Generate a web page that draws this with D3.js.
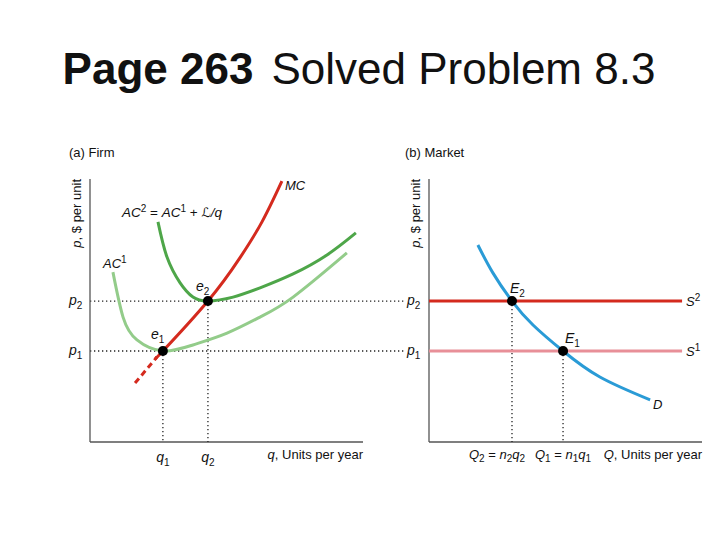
<!DOCTYPE html>
<html>
<head>
<meta charset="utf-8" />
<title>Solved Problem 8.3</title>
<script src="https://cdn.jsdelivr.net/npm/d3@7"></script>
<style>
  html, body { margin: 0; padding: 0; background: #fff; }
  text { font-family: "Liberation Sans", Arial, sans-serif; fill: #111; }
  .it { font-style: italic; }
</style>
</head>
<body>
<script>
// values, both panels use a 0..100 domain on each axis
var q1 = 26.7, q2 = 43.2;          // firm quantities
var p1 = 34.6, p2 = 53.6;          // prices
var Q2 = 30.4, Q1 = 49.1;          // market quantities

var mcDashed = [[16.5, 22.4], [24.5, 32.3]];
var mcPoints = [[24.5, 32.3], [26.7, 34.6], [43.2, 53.6], [54.9, 70.0], [63.0, 83.7], [70.3, 99.2]];
var ac1Points = [[8.4, 64.6], [12.1, 47.5], [17.2, 38.8], [26.7, 34.6], [37.7, 36.9], [50.2, 41.4], [62.3, 47.5], [74.4, 55.1], [94.1, 71.9]];
var ac2Points = [[24.9, 83.7], [28.2, 70.3], [33.0, 60.5], [37.7, 55.1], [43.2, 53.6], [52.4, 55.1], [62.3, 58.6], [74.4, 63.9], [86.8, 71.1], [97.4, 79.5]];
var demandPoints = [[17.9, 74.9], [23.4, 64.3], [30.4, 53.6], [38.1, 44.5], [49.1, 34.6], [62.6, 24.7], [81.0, 16.0]];
var supplyEnd = 92.7;

var svg = d3.select('body').append('svg').attr('width', 720).attr('height', 540);

// title
var title = svg.append('text').attr('x', 359).attr('y', 84).attr('text-anchor', 'middle').style('font-size', '44px');
title.append('tspan').style('font-weight', 'bold').text('Page 263');
title.append('tspan').attr('dx', 18).text('Solved Problem 8.3');

var yScale = d3.scaleLinear().domain([0, 100]).range([442, 179]);
var xa = d3.scaleLinear().domain([0, 100]).range([90, 363]);
var xb = d3.scaleLinear().domain([0, 100]).range([429, 702]);

function lineFor(x) {
  return d3.line().x(function(d){ return x(d[0]); }).y(function(d){ return yScale(d[1]); }).curve(d3.curveNatural);
}

function subLabel(x, y, main, sub, anchor) {
  var t = svg.append('text').attr('x', x).attr('y', y).attr('text-anchor', anchor || 'start').style('font-size', '14px');
  t.append('tspan').attr('class', 'it').text(main);
  t.append('tspan').attr('dy', 4).style('font-size', '10px').text(sub);
  return t;
}

// italic letter with superscript; the next tspan must bring the baseline back with dy 5
function supLabel(t, main, sup, dy0) {
  t.append('tspan').attr('class', 'it').attr('dy', dy0 || 0).text(main);
  t.append('tspan').attr('dy', -5).style('font-size', '10px').text(sup);
}

function axes(x, label) {
  var g = svg.append('g');
  g.append('line').attr('x1', x(0)).attr('x2', x(0)).attr('y1', yScale(100)).attr('y2', yScale(0)).attr('stroke', '#555').attr('stroke-width', 1.3);
  g.append('line').attr('x1', x(0)).attr('x2', x(100)).attr('y1', yScale(0)).attr('y2', yScale(0)).attr('stroke', '#555').attr('stroke-width', 1.3);
  var yl = g.append('text').attr('transform', 'translate(' + (x(0) - 9) + ',' + yScale(100) + ') rotate(-90)')
    .attr('text-anchor', 'end').style('font-size', '13px');
  yl.append('tspan').attr('class', 'it').text('p');
  yl.append('tspan').text(', $ per unit');
  var xl = g.append('text').attr('x', x(100)).attr('y', 459).attr('text-anchor', 'end').style('font-size', '13px');
  xl.append('tspan').attr('class', 'it').text(label);
  xl.append('tspan').text(', Units per year');
  return g;
}

function dotted(x1, x2, y1, y2) {
  svg.append('line').attr('x1', x1).attr('x2', x2).attr('y1', y1).attr('y2', y2)
    .attr('stroke', '#222').attr('stroke-width', 1.3).attr('stroke-dasharray', '1.3,2.7');
}

// dotted price lines across both panels
[p1, p2].forEach(function(p) { dotted(xa(0), 405, yScale(p), yScale(p)); });

// ---- (a) Firm ----
axes(xa, 'q');
svg.append('text').attr('x', 69).attr('y', 157).style('font-size', '13px').text('(a) Firm');

dotted(xa(q1), xa(q1), yScale(p1), yScale(0));
dotted(xa(q2), xa(q2), yScale(p2), yScale(0));

svg.append('path').attr('d', lineFor(xa)(ac1Points)).attr('fill', 'none').attr('stroke', '#93cc8a').attr('stroke-width', 3);
svg.append('path').attr('d', lineFor(xa)(ac2Points)).attr('fill', 'none').attr('stroke', '#4ea649').attr('stroke-width', 3);
svg.append('path').attr('d', lineFor(xa)(mcDashed)).attr('fill', 'none').attr('stroke', '#d42a1e').attr('stroke-width', 3).attr('stroke-dasharray', '6,4');
svg.append('path').attr('d', lineFor(xa)(mcPoints)).attr('fill', 'none').attr('stroke', '#d42a1e').attr('stroke-width', 3);

svg.append('circle').attr('cx', xa(q1)).attr('cy', yScale(p1)).attr('r', 5).attr('fill', '#000');
svg.append('circle').attr('cx', xa(q2)).attr('cy', yScale(p2)).attr('r', 5).attr('fill', '#000');

subLabel(69, yScale(p2) + 4, 'p', '2');
subLabel(69, yScale(p1) + 4, 'p', '1');
subLabel(xa(q1), 462, 'q', '1', 'middle');
subLabel(xa(q2), 462, 'q', '2', 'middle');
subLabel(151, 339, 'e', '1');
subLabel(196, 291, 'e', '2');

svg.append('text').attr('x', 285).attr('y', 190).attr('class', 'it').style('font-size', '13px').text('MC');
supLabel(svg.append('text').attr('x', 103).attr('y', 268).style('font-size', '13px'), 'AC', '1');
var ac2l = svg.append('text').attr('x', 122).attr('y', 217).style('font-size', '13.5px');
supLabel(ac2l, 'AC', '2');
ac2l.append('tspan').attr('dy', 5).text(' = ');
supLabel(ac2l, 'AC', '1');
ac2l.append('tspan').attr('dy', 5).text(' + ');
ac2l.append('tspan').style('font-family', '"DejaVu Sans", sans-serif').style('font-size', '13px').text('\u2112');
ac2l.append('tspan').attr('class', 'it').text('/q');

// ---- (b) Market ----
axes(xb, 'Q');
svg.append('text').attr('x', 405).attr('y', 157).style('font-size', '13px').text('(b) Market');

dotted(xb(Q2), xb(Q2), yScale(p2), yScale(0));
dotted(xb(Q1), xb(Q1), yScale(p1), yScale(0));

svg.append('line').attr('x1', xb(0)).attr('x2', xb(supplyEnd)).attr('y1', yScale(p1)).attr('y2', yScale(p1)).attr('stroke', '#e88f98').attr('stroke-width', 3);
svg.append('line').attr('x1', xb(0)).attr('x2', xb(supplyEnd)).attr('y1', yScale(p2)).attr('y2', yScale(p2)).attr('stroke', '#d42a1e').attr('stroke-width', 3);
svg.append('path').attr('d', lineFor(xb)(demandPoints)).attr('fill', 'none').attr('stroke', '#2a9bd6').attr('stroke-width', 3);

svg.append('circle').attr('cx', xb(Q2)).attr('cy', yScale(p2)).attr('r', 5).attr('fill', '#000');
svg.append('circle').attr('cx', xb(Q1)).attr('cy', yScale(p1)).attr('r', 5).attr('fill', '#000');

subLabel(407, yScale(p2) + 4, 'p', '2');
subLabel(407, yScale(p1) + 4, 'p', '1');
subLabel(510, 293, 'E', '2');
subLabel(565, 343, 'E', '1');
svg.append('text').attr('x', 653).attr('y', 409).attr('class', 'it').style('font-size', '13px').text('D');
supLabel(svg.append('text').attr('x', 686).attr('y', yScale(p2) + 5).style('font-size', '13px'), 'S', '2');
supLabel(svg.append('text').attr('x', 686).attr('y', yScale(p1) + 5).style('font-size', '13px'), 'S', '1');

function qLabel(x, Qsub, nsub, qsub) {
  var t = svg.append('text').attr('x', x).attr('y', 459).attr('text-anchor', 'middle').style('font-size', '13px');
  t.append('tspan').attr('class', 'it').text('Q');
  t.append('tspan').attr('dy', 3).style('font-size', '10px').text(Qsub);
  t.append('tspan').attr('dy', -3).text(' = ');
  t.append('tspan').attr('class', 'it').text('n');
  t.append('tspan').attr('dy', 3).style('font-size', '10px').text(nsub);
  t.append('tspan').attr('dy', -3).attr('class', 'it').text('q');
  t.append('tspan').attr('dy', 3).style('font-size', '10px').text(qsub);
}
qLabel(497, '2', '2', '2');
qLabel(563, '1', '1', '1');
</script>
</body>
</html>
